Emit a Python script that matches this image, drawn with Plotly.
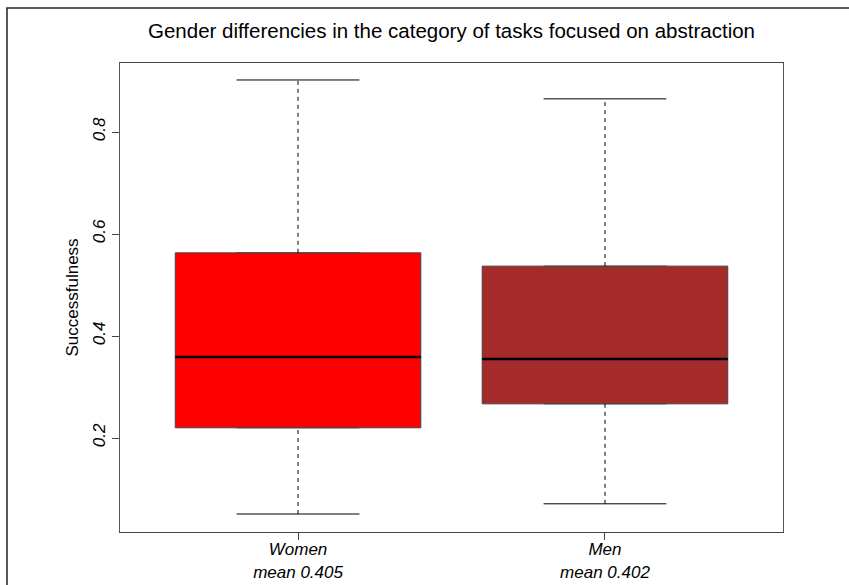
import plotly.graph_objects as go

# ---- data ----
groups = ["Women", "Men"]
positions = [1, 2]
means = [0.405, 0.402]
lower_whisker = [0.051, 0.071]
q1 = [0.220, 0.267]
median = [0.359, 0.355]
q3 = [0.563, 0.537]
upper_whisker = [0.902, 0.865]
colors = ["#FF0000", "#A52A2A"]
y_ticks = [0.2, 0.4, 0.6, 0.8]

title = "Gender differencies in the category of tasks focused on abstraction"
y_label = "Successfulness"

BOX_W = 0.8
CAP_HALF = 0.2
FONT = "Liberation Sans, Arial, sans-serif"

fig = go.Figure()

for i, g in enumerate(groups):
    x = positions[i]
    # dashed whiskers
    for lo, hi in [(lower_whisker[i], q1[i]), (q3[i], upper_whisker[i])]:
        fig.add_trace(go.Scatter(x=[x, x], y=[lo, hi], mode="lines",
                                 line=dict(color="black", width=1, dash="4px,4px"),
                                 showlegend=False, hoverinfo="skip"))
    # caps
    for v in [lower_whisker[i], upper_whisker[i]]:
        fig.add_trace(go.Scatter(x=[x - CAP_HALF, x + CAP_HALF], y=[v, v], mode="lines",
                                 line=dict(color="black", width=1),
                                 showlegend=False, hoverinfo="skip"))
    # box
    fig.add_trace(go.Box(x=[x], q1=[q1[i]], median=[median[i]], q3=[q3[i]],
                         lowerfence=[q1[i]], upperfence=[q3[i]],
                         width=BOX_W, fillcolor=colors[i],
                         line=dict(color="#444444", width=1),
                         boxpoints=False, name=g, showlegend=False))
    # thick median
    fig.add_trace(go.Scatter(x=[x - BOX_W / 2, x + BOX_W / 2], y=[median[i], median[i]],
                             mode="lines", line=dict(color="black", width=2.5),
                             showlegend=False, hoverinfo="skip"))

tick_text = [f"{g}<br>mean {m:.3f}" for g, m in zip(groups, means)]

fig.update_layout(
    width=849, height=585,
    margin=dict(l=120, r=66, t=63, b=53, autoexpand=False),
    paper_bgcolor="white", plot_bgcolor="white",
    font=dict(family=FONT, color="black"),
    title=dict(text=title, x=0.5, xref="paper", y=1 - 31 / 585, yref="container",
               xanchor="center", yanchor="middle",
               font=dict(size=20.5, family=FONT, color="black")),
    showlegend=False,
    xaxis=dict(range=[0.42, 2.58], tickvals=positions, ticktext=tick_text,
               ticks="outside", ticklen=7, tickcolor="#444", tickwidth=1,
               tickfont=dict(size=17, style="italic", family=FONT),
               ticklabelstandoff=-5,
               automargin=False,
               showgrid=False, zeroline=False, showline=True, linecolor="#444",
               linewidth=1, mirror=True),
    yaxis=dict(range=[0.0157, 0.9353], tickvals=y_ticks,
               ticktext=[f"{t:.1f}" for t in y_ticks],
               ticks="outside", ticklen=7, tickcolor="#444", tickwidth=1,
               tickangle=-90, automargin=False,
               tickfont=dict(size=17, style="italic", family=FONT),
               showgrid=False, zeroline=False, showline=True, linecolor="#555",
               linewidth=1, mirror=True),
    annotations=[dict(text=y_label, x=(72 - 120) / 663, y=0.5, xref="paper", yref="paper",
                      textangle=-90, showarrow=False, xanchor="center", yanchor="middle",
                      font=dict(size=17, family=FONT, color="black"))],
    shapes=[dict(type="path", xref="paper", yref="paper",
                 path=f"M {(7 - 120) / 663} {(532 - 600) / 469} L {(7 - 120) / 663} {(532 - 8) / 469} L {(860 - 120) / 663} {(532 - 8) / 469}",
                 line=dict(color="#222", width=1.5))],
)

fig.write_html("out.html")
